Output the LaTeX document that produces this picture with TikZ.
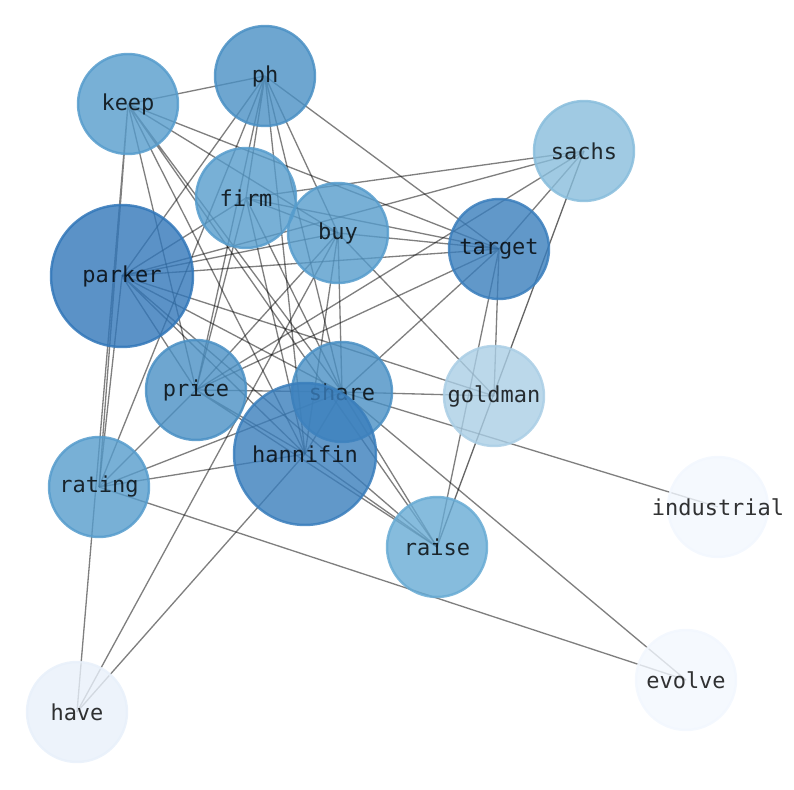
\documentclass[tikz,border=0pt]{standalone}
\usepackage{fontspec}
\setmonofont{DejaVu Sans Mono}
\usetikzlibrary{backgrounds}

\definecolor{blueA}{RGB}{50,119,185}
\definecolor{blueB}{RGB}{58,126,188}
\definecolor{blueC}{RGB}{74,144,196}
\definecolor{blueD}{RGB}{86,156,204}
\definecolor{blueE}{RGB}{104,171,212}
\definecolor{blueF}{RGB}{136,189,220}
\definecolor{blueG}{RGB}{170,206,229}
\definecolor{blueH}{RGB}{232,240,250}
\definecolor{blueI}{RGB}{242,247,254}

\begin{document}
\begin{tikzpicture}[x=0.02cm,y=-0.02cm,
  word/.style={circle,inner sep=0pt,minimum size=2cm,fill=#1,draw=#1,
    fill opacity=0.8,draw opacity=0.85,line width=1.4pt,text opacity=0.8,
    font=\ttfamily\fontsize{12.5}{15}\selectfont},
  bigword/.style={word=#1,minimum size=2.84cm},
  edge/.style={black,opacity=0.5,line width=0.75pt}]
\useasboundingbox (0,0) rectangle (794,790);
\node[word=blueC] (ph) at (265,76) {ph};
\node[word=blueD] (keep) at (128,104) {keep};
\node[word=blueF] (sachs) at (584,151) {sachs};
\node[word=blueD] (firm) at (246,198) {firm};
\node[word=blueD] (buy) at (338,233) {buy};
\node[word=blueB] (target) at (499,249) {target};
\node[bigword=blueA] (parker) at (122,276) {parker};
\node[word=blueC] (price) at (196,390) {price};
\node[word=blueC] (share) at (342,392) {share};
\node[word=blueG] (goldman) at (494,396) {\makebox[0pt]{goldman}};
\node[bigword=blueB] (hannifin) at (305,454) {hannifin};
\node[word=blueD] (rating) at (99,487) {rating};
\node[word=blueI] (industrial) at (718,507) {\makebox[0pt]{industrial}};
\node[word=blueE] (raise) at (437,547) {raise};
\node[word=blueI] (evolve) at (686,680) {evolve};
\node[word=blueH] (have) at (77,712) {have};
\begin{scope}[on background layer]
\draw[edge] (ph.center) -- (keep.center) (ph.center) -- (parker.center) (ph.center) -- (rating.center)
  (ph.center) -- (price.center) (ph.center) -- (firm.center) (ph.center) -- (hannifin.center)
  (ph.center) -- (share.center) (ph.center) -- (buy.center) (ph.center) -- (target.center);
\draw[edge] (keep.center) -- (target.center) (keep.center) -- (buy.center) (keep.center) -- (price.center)
  (keep.center) -- (hannifin.center) (keep.center) -- (share.center) (keep.center) -- (raise.center)
  (keep.center) -- (rating.center) (keep.center) -- (have.center);
\draw[edge] (sachs.center) -- (firm.center) (sachs.center) -- (parker.center) (sachs.center) -- (target.center)
  (sachs.center) -- (price.center);
\draw[edge,opacity=0.6] (sachs.center) -- (raise.center);
\draw[edge] (firm.center) -- (parker.center) (firm.center) -- (target.center) (firm.center) -- (price.center)
  (firm.center) -- (hannifin.center) (firm.center) -- (share.center) (firm.center) -- (buy.center);
\draw[edge] (buy.center) -- (parker.center) (buy.center) -- (target.center) (buy.center) -- (share.center)
  (buy.center) -- (goldman.center) (buy.center) -- (have.center) (buy.center) -- (hannifin.center)
  (buy.center) -- (price.center);
\draw[edge] (target.center) -- (parker.center) (target.center) -- (price.center) (target.center) -- (share.center)
  (target.center) -- (raise.center) (target.center) -- (goldman.center);
\draw[edge] (parker.center) -- (price.center) (parker.center) -- (share.center) (parker.center) -- (hannifin.center)
  (parker.center) -- (raise.center) (parker.center) -- (rating.center) (parker.center) -- (goldman.center);
\draw[edge] (price.center) -- (share.center) (price.center) -- (hannifin.center) (price.center) -- (raise.center)
  (price.center) -- (rating.center);
\draw[edge] (share.center) -- (goldman.center) (share.center) -- (hannifin.center) (share.center) -- (rating.center)
  (share.center) -- (raise.center) (share.center) -- (industrial.center) (share.center) -- (evolve.center);
\draw[edge] (hannifin.center) -- (rating.center) (hannifin.center) -- (raise.center) (hannifin.center) -- (have.center);
\draw[edge] (rating.center) -- (evolve.center);
\end{scope}
\end{tikzpicture}
\end{document}
